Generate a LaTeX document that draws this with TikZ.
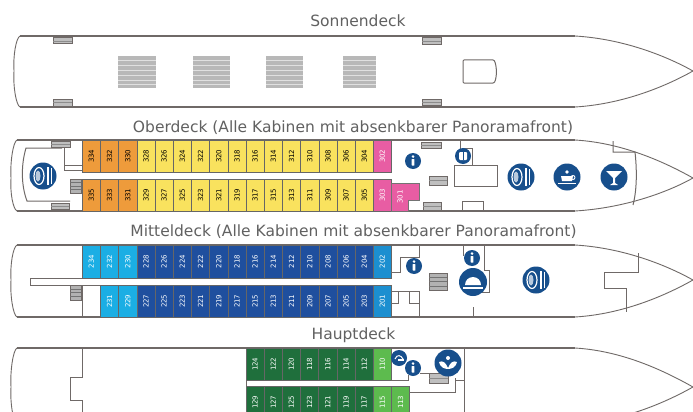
\documentclass[tikz,border=0pt]{standalone}
\usepackage{fontspec}
\setmainfont{DejaVu Sans}
\definecolor{hull}{HTML}{6F6967}
\definecolor{orangec}{HTML}{EE9B3B}
\definecolor{yellowc}{HTML}{F9E25E}
\definecolor{pinkc}{HTML}{E85DA3}
\definecolor{lightb}{HTML}{1BAEE4}
\definecolor{midb}{HTML}{1C8FD0}
\definecolor{darkb}{HTML}{1F4F9E}
\definecolor{darkg}{HTML}{1F6F3C}
\definecolor{lightg}{HTML}{5DBB4E}
\definecolor{iconb}{HTML}{174F8C}
\tikzset{
 x=1pt,y=-1pt,
 hull/.style={draw=hull,line width=1.6pt},
 wall/.style={draw=hull,line width=1pt},
 bowline/.style={draw=hull,line width=.9pt},
 title/.style={font=\fontsize{15.5}{17}\selectfont,text=black!62,inner sep=0pt},
 cabin/.style={draw=black!60,line width=.5pt,minimum width=18.2pt,inner sep=0pt,anchor=north west},
 num/.style={rotate=90,font=\fontsize{7}{8}\selectfont},
 stair/.style={draw=hull,fill=black!25,line width=1pt},
 grate/.style={fill=black!28,draw=none},
 icon/.style={circle,fill=iconb,inner sep=0pt,text=white},
}
\newcommand{\cab}[7]{\node[cabin,fill=#5,minimum height=#3pt,text width=17pt,align=center] (#7) at (#1,#2) {\rotatebox{90}{\fontsize{7}{8}\selectfont\textcolor{#6}{#4}}};}
\newcommand{\rowcab}[6]{\foreach \n [count=\i from 0] in {#6} {\pgfmathsetmacro{\xx}{#1+\i*18.2}\cab{\xx}{#2}{#3}{\n}{#4}{#5}{c\n}}}
\newcommand{\hullpath}[4]{%
 \draw[hull] (#1+4,#2) -- (575,#2);
 \draw[hull] (#1+4,#3) -- (575,#3);
 \draw[bowline] (575,#2) .. controls (625,#2+3) and (668,#4-14) .. (693,#4) .. controls (668,#4+14) and (625,#3-3) .. (575,#3);
 \draw[bowline] (#1+4,#2) .. controls (#1,#2+2) and (#1-3,#4-15) .. (#1-2,#4) .. controls (#1-3,#4+15) and (#1,#3-2) .. (#1+4,#3);
}
\newcommand{\stairs}[4]{\draw[stair] (#1,#2) rectangle (#3,#4);\draw[black!45,line width=.4pt] (#1,#2/2+#4/2) -- (#3,#2/2+#4/2);}
\newcommand{\grt}[2]{\fill[grate] (#1,56) rectangle (#2,88);
 \foreach \y in {60,65,70,75,80,84} \draw[black!12,line width=.5pt] (#1,\y) -- (#2,\y);}
\newcommand{\stripes}[4]{\draw[stair,fill=black!30] (#1,#2) rectangle (#3,#4);
 \foreach \u in {1,2,3} \draw[black!55,line width=.5pt] (#1,#2+\u*#4/4-\u*#2/4) -- (#3,#2+\u*#4/4-\u*#2/4);}
\newcommand{\iinfo}[3]{\node[icon,minimum size=16pt] (#1) at (#2,#3) {};
 \fill[white] (#2,#3-4.4) circle (1.4);
 \fill[white,rounded corners=.4pt] (#2-1.3,#3-2) rectangle (#2+1.3,#3+4.6);}
\newcommand{\iplate}[3]{\node[icon,minimum size=27pt] (#1) at (#2,#3) {};
 \draw[white,line width=1.2pt] (#2-4,#3) circle[x radius=5,y radius=8.5];
 \fill[white!70!iconb] (#2-5,#3) circle[x radius=2.5,y radius=5.5];
 \fill[white] (#2+4,#3-9) rectangle (#2+5.5,#3+9);
 \fill[white] (#2+7.5,#3-8) rectangle (#2+9,#3+8);}
\newcommand{\icup}[3]{\node[icon,minimum size=27pt] (#1) at (#2,#3) {};
 \fill[white] (#2-6,#3-1) -- (#2+6,#3-1) -- (#2+5,#3+4) -- (#2-5,#3+4) -- cycle;
 \draw[white,line width=.9pt] (#2+6,#3+.5) circle (2);
 \fill[white] (#2-9,#3+5.5) rectangle (#2+9,#3+7);
 \fill[white] (#2,#3-5) circle (1.8);}
\newcommand{\icock}[3]{\node[icon,minimum size=27pt] (#1) at (#2,#3) {};
 \fill[white] (#2-8,#3-6) -- (#2+8,#3-6) -- (#2+1,#3+1) -- (#2+1,#3+6) -- (#2+4,#3+8) -- (#2-4,#3+8) -- (#2-1,#3+6) -- (#2-1,#3+1) -- cycle;}
\newcommand{\ibell}[3]{\node[icon,minimum size=28pt] (#1) at (#2,#3) {};
 \fill[white] (#2-8,#3+3) arc[start angle=180,end angle=0,x radius=8,y radius=-8] -- cycle;
 \fill[white] (#2-10,#3+4.5) rectangle (#2+10,#3+6.5);}
\newcommand{\ispa}[3]{\node[icon,minimum size=27pt] (#1) at (#2,#3) {};
 \fill[white] (#2,#3-5) circle (2);
 \fill[white] (#2-9,#3-1) .. controls (#2-5,#3-3) and (#2-2,#3) .. (#2,#3+5) .. controls (#2+2,#3) and (#2+5,#3-3) .. (#2+9,#3-1) .. controls (#2+8,#3+4) and (#2+4,#3+6) .. (#2,#3+6) .. controls (#2-4,#3+6) and (#2-8,#3+4) .. (#2-9,#3-1) -- cycle;}
\newcommand{\iwave}[3]{\node[icon,minimum size=16pt] (#1) at (#2,#3) {};
 \draw[white,line width=1pt] (#2-4,#3+1) .. controls (#2-2,#3-4) and (#2+2,#3-3) .. (#2+4,#3+1);
 \fill[white] (#2-1,#3+1) rectangle (#2+5,#3+3);}
\newcommand{\ilift}[3]{\node[icon,minimum size=16pt] (#1) at (#2,#3) {};
 \fill[white,rounded corners=1pt] (#2-4,#3-4) rectangle (#2+4,#3+4);
 \draw[iconb,line width=.7pt] (#2,#3-4) -- (#2,#3+4);}
\begin{document}
\begin{tikzpicture}
\useasboundingbox (0,0) rectangle (693,412);
\fill[white] (0,0) rectangle (693,412);
\clip (0,0) rectangle (693,412);
% ===== Sonnendeck
\node[title] (t1) at (358,21) {Sonnendeck};
\hullpath{16}{36}{107}{71}
\foreach \a/\b in {118/156,193/230,266/303,343/376} {\grt{\a}{\b}}
\stairs{53}{38}{72}{44}\stairs{53}{99}{72}{106}
\stairs{422}{38}{441}{45}\stairs{422}{99}{441}{105}
\draw[wall,rounded corners=1pt] (463,60) -- (494,60) .. controls (497,66) and (497,78) .. (494,83) -- (463,83) -- cycle;
% ===== Oberdeck
\node[title] (t2) at (353,128) {Oberdeck (Alle Kabinen mit absenkbarer Panoramafront)};
\hullpath{13}{140}{211}{178}
\draw[wall] (62,148) -- (26,148) .. controls (21,165) and (21,185) .. (27,201) -- (70,201);
\draw[wall] (64,148) -- (64,170) -- (82,170);
\draw[wall] (64,165) -- (82,165);
\draw[wall] (82,172) -- (391,172) (82,179) -- (391,179);
\stripes{70}{179}{81}{193}
\stairs{51}{141}{70}{147}\stairs{51}{203}{69}{209}
\rowcab{82}{140}{32}{orangec}{black}{334,332,330}
\rowcab{136.6}{140}{32}{yellowc}{black}{328,326,324,322,320,318,316,314,312,310,308,306,304}
\rowcab{373}{140}{32}{pinkc}{white}{302}
\rowcab{82}{179}{32}{orangec}{black}{335,333,331}
\rowcab{136.6}{179}{32}{yellowc}{black}{329,327,325,323,321,319,317,315,313,311,309,307,305}
\rowcab{373}{179}{32}{pinkc}{white}{303}
\draw[black!55,line width=.5pt,fill=pinkc] (391.2,183) -- (419,183) -- (419,200) -- (408,200) -- (408,211) -- (391.2,211) -- cycle;
\node[num,text=white,inner sep=0pt] (c301) at (400,197) {301};
\iplate{ip1}{43}{176}
\iinfo{ii1}{413}{161}
\stairs{421}{142}{441}{148}\stairs{429}{176}{447}{185}\stairs{423}{202}{441}{210}
\draw[wall] (460,140) -- (460,149) (463,148) -- (472,148) -- (472,165);
\draw[wall] (454,165) rectangle (497,186);
\ilift{iw1}{463}{156}
\draw[wall] (462,211) -- (462,201) -- (483,201) -- (483,211);
\draw[wall] (613,141) -- (613,152) -- (635,152) .. controls (637,170) and (637,190) .. (633,205);
\iplate{ip2}{521}{177}\icup{ic1}{567}{177}\icock{ik1}{614}{177}
% ===== Mitteldeck
\node[title] (t3) at (353.5,232) {Mitteldeck (Alle Kabinen mit absenkbarer Panoramafront)};
\hullpath{13}{245}{317}{280}
\draw[wall] (391,278) -- (30,278) -- (30,285) -- (391,285);
\draw[wall] (82,285) -- (82,317);
\stripes{70}{285}{81}{300}
\rowcab{82}{245}{33}{lightb}{white}{234,232,230}
\rowcab{136.6}{245}{33}{darkb}{white}{228,226,224,222,220,218,216,214,212,210,208,206,204}
\rowcab{373}{245}{33}{midb}{white}{202}
\rowcab{100.2}{285}{32}{lightb}{white}{231,229}
\rowcab{136.6}{285}{32}{darkb}{white}{227,225,223,221,219,217,215,213,211,209,207,205,203}
\rowcab{373}{285}{32}{midb}{white}{201}
\draw[wall] (391,272) -- (400,272) -- (400,257) -- (419,257) -- (419,245);
\draw[wall] (391,291) -- (419,291) -- (419,317);
\draw[wall] (391,303) -- (398,303) -- (398,291) (419,303) -- (409,303) -- (409,291);
\iinfo{ii2}{414}{266}
\stripes{429}{273}{447}{290}
\draw[wall] (463,245) -- (463,256) (484,245) -- (484,270) (484,270) -- (489,270) -- (489,292) -- (480,292);
\iinfo{ii3}{472}{258}
\ibell{ib1}{473}{282}
\draw[wall] (473,307) -- (473,317);
\iplate{ip3}{536}{280}
\draw[wall] (638,253) -- (638,272) -- (604,272) -- (604,288) -- (626,288) -- (626,312);
% ===== Hauptdeck
\node[title] (t4) at (353.5,335) {Hauptdeck};
\hullpath{13}{348}{424}{387}
\draw[wall] (82,348) -- (82,377) -- (70,377) -- (70,400) -- (82,400) -- (82,412);
\draw[wall] (246,380) -- (391,380) (246,380) -- (246,386) -- (409,386);
\draw[wall] (464,348) -- (464,412);
\rowcab{245.6}{348}{32}{darkg}{white}{124,122,120,118,116,114,112}
\rowcab{373}{348}{32}{lightg}{white}{110}
\rowcab{245.6}{386}{32}{darkg}{white}{129,127,125,123,121,119,117}
\rowcab{373}{386}{32}{lightg}{white}{115}
\rowcab{391.2}{386}{32}{lightg}{white}{113}
\draw[wall] (391,380) -- (408,380) -- (408,375) (420,373) -- (430,373);
\draw[wall] (409,392) -- (455,392) -- (455,378) (455,380) -- (464,380);
\stairs{429}{373}{448}{383}
\iwave{iw2}{399}{358}
\iinfo{ii4}{413}{368}
\ispa{is1}{448}{363}
\end{tikzpicture}
\end{document}
